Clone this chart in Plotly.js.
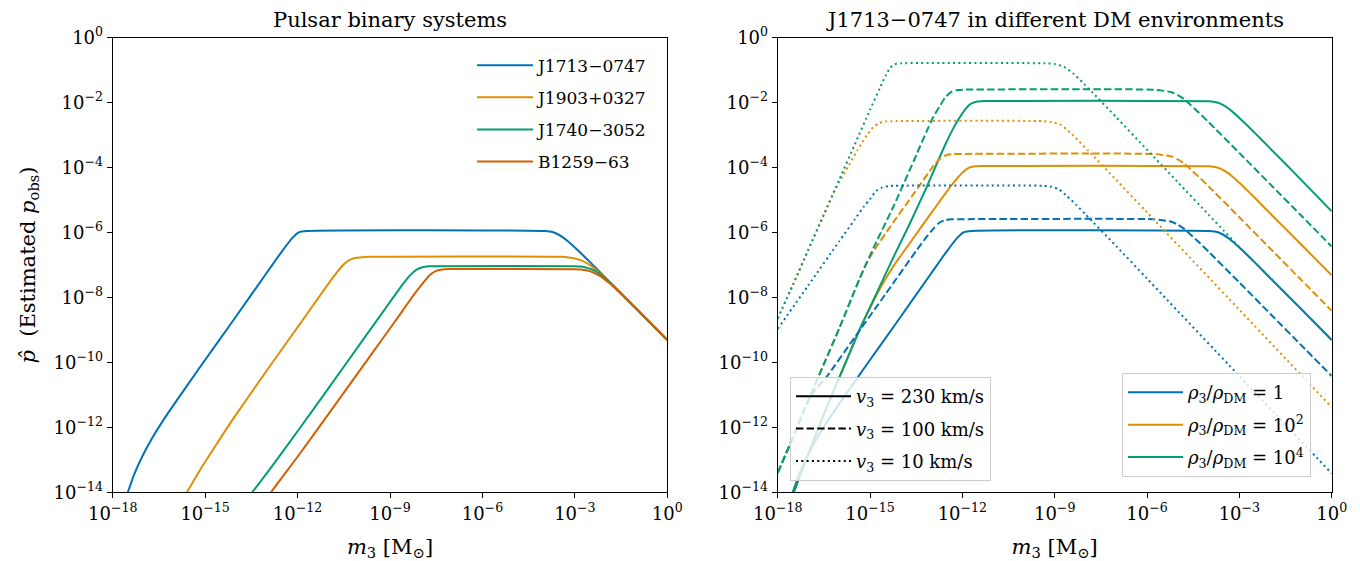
<!DOCTYPE html>
<html><head><meta charset="utf-8">
<script src="https://cdn.plot.ly/plotly-3.0.1.min.js"></script>
<style>html,body{margin:0;padding:0;background:#fff;} #chart{width:1360px;height:561px;}</style>
</head><body><div id="chart"></div>
<script>
// ---- data: log10(m3 / Msun) and log10(p_hat) ----
// Left panel: pulsar binary systems
const J1713_logm = [-17.6,-17.51,-17.3,-17.02,-16.7,-16.26,-15.7,-15.17,-14.09,-13.0,-12.5,-12.15,-11.95,-11.7,-4.0,-3.8,-3.6,-3.4,-3.2,-3.0,-2.8,-2.5,-2.0,-1.0,0];
const J1713_logp = [-14.22,-14.0,-13.44,-12.86,-12.3,-11.64,-10.87,-10.15,-8.71,-7.24,-6.57,-6.15,-5.99,-5.95,-5.95,-5.97,-6.03,-6.14,-6.29,-6.46,-6.64,-6.92,-7.40,-8.35,-9.31];
const J1903_logm = [-15.65,-15.59,-15.17,-14.7,-14.09,-13.0,-11.91,-10.83,-10.5,-10.3,-10.1,-9.9,-9.7,-3.4,-3.2,-3.0,-2.8,-2.6,-2.4,-2.2,-2.0,-1.8,-1.0,0];
const J1903_logp = [-14.1,-14.0,-13.32,-12.62,-11.74,-10.25,-8.8,-7.36,-6.98,-6.84,-6.78,-6.76,-6.75,-6.75,-6.77,-6.8,-6.86,-6.95,-7.08,-7.24,-7.41,-7.59,-8.35,-9.31];
const J1740_logm = [-13.55,-13.47,-13.0,-12.0,-11.0,-10.0,-9.0,-8.6,-8.35,-8.15,-7.95,-7.75,-7.55,-3.0,-2.8,-2.6,-2.4,-2.2,-2.0,-1.8,-1.5,-1.0,0];
const J1740_logp = [-14.12,-14.0,-13.42,-12.12,-10.8,-9.47,-8.14,-7.61,-7.32,-7.15,-7.07,-7.04,-7.035,-7.04,-7.05,-7.09,-7.16,-7.27,-7.43,-7.6,-7.88,-8.36,-9.31];
const B1259_logm = [-12.95,-12.86,-11.91,-10.83,-9.74,-9.3,-8.6,-8.2,-7.95,-7.7,-7.5,-7.3,-7.1,-6.9,-3.0,-2.8,-2.6,-2.4,-2.2,-2.0,-1.8,-1.5,-1.0,0];
const B1259_logp = [-14.13,-14.0,-12.79,-11.37,-9.93,-9.35,-8.42,-7.88,-7.58,-7.3,-7.18,-7.14,-7.125,-7.12,-7.13,-7.14,-7.17,-7.23,-7.33,-7.47,-7.62,-7.89,-8.36,-9.31];

// Right panel: J1713-0747 in DM environments (rho3/rhoDM, v3)
const rho100_v230_logm = [-17.6,-17.48,-17.0,-16.5,-15.97,-15.32,-14.94,-14.57,-14.2,-13.71,-12.95,-12.3,-12.0,-11.8,-11.6,-11.4,-4.0,-3.8,-3.6,-3.4,-3.2,-3.0,-2.8,-2.5,-2.0,-1.0,0];
const rho100_v230_logp = [-14.25,-14.0,-12.8,-11.6,-10.4,-8.95,-8.21,-7.55,-6.98,-6.33,-5.32,-4.48,-4.16,-4.01,-3.96,-3.95,-3.96,-3.98,-4.04,-4.15,-4.30,-4.47,-4.65,-4.93,-5.41,-6.36,-7.32];
const rho1e4_v230_logm = [-17.6,-17.48,-17.0,-16.5,-15.97,-15.32,-14.95,-14.57,-14.2,-13.71,-13.17,-12.85,-12.52,-12.3,-12.09,-11.9,-11.75,-11.55,-11.3,-4.0,-3.8,-3.6,-3.4,-3.2,-3.0,-2.8,-2.5,-2.0,-1.0,0];
const rho1e4_v230_logp = [-14.25,-14.0,-12.8,-11.6,-10.4,-8.95,-8.2,-7.43,-6.68,-5.73,-4.62,-3.92,-3.22,-2.8,-2.46,-2.2,-2.05,-1.97,-1.95,-1.96,-1.98,-2.04,-2.15,-2.30,-2.47,-2.65,-2.93,-3.41,-4.37,-5.35];
const rho1_v100_logm = [-18,-17.5,-17.1,-16.9,-16.7,-16.4,-15.5,-14.5,-13.48,-13.2,-12.94,-12.75,-12.56,-12.36,-12.1,-5.8,-5.5,-5.2,-5.0,-4.8,-4.6,-4.3,-4.0,-3.0,-2.0,-1.0,0];
const rho1_v100_logp = [-13.4,-12.3,-11.38,-11.0,-10.75,-10.43,-9.23,-7.9,-6.54,-6.18,-5.88,-5.70,-5.62,-5.595,-5.59,-5.59,-5.62,-5.67,-5.76,-5.88,-6.05,-6.31,-6.59,-7.54,-8.50,-9.46,-10.42];
const rho100_v100_logm = [-18,-17.5,-17.0,-16.5,-16.0,-15.33,-15.1,-14.8,-14.24,-13.59,-12.94,-12.7,-12.5,-12.3,-12.1,-5.8,-5.5,-5.2,-5.0,-4.8,-4.6,-4.3,-4.0,-3.0,-2.0,-1.0,0];
const rho100_v100_logp = [-13.4,-12.3,-11.15,-10.05,-8.95,-7.4,-6.92,-6.45,-5.68,-4.82,-3.95,-3.7,-3.61,-3.585,-3.58,-3.58,-3.61,-3.66,-3.75,-3.87,-4.04,-4.30,-4.58,-5.53,-6.49,-7.45,-8.41];
const rho1e4_v100_logm = [-18,-17.5,-17.0,-16.5,-16.0,-15.33,-14.8,-14.24,-13.49,-13.17,-12.95,-12.74,-12.55,-12.36,-12.15,-11.95,-5.8,-5.5,-5.2,-5.0,-4.8,-4.6,-4.3,-4.0,-3.0,-2.0,-1.0,0];
const rho1e4_v100_logp = [-13.4,-12.3,-11.15,-10.05,-8.95,-7.4,-6.3,-5.2,-3.6,-2.9,-2.45,-2.12,-1.83,-1.67,-1.61,-1.6,-1.6,-1.63,-1.68,-1.77,-1.89,-2.06,-2.32,-2.6,-3.55,-4.51,-5.47,-6.43];
const rho1_v10_logm = [-18,-17.0,-16.0,-15.5,-15.2,-15.0,-14.8,-14.6,-14.4,-14.2,-9.4,-9.1,-8.86,-8.6,-8.3,-8.0,-7.0,-6.0,-3.0,0];
const rho1_v10_logp = [-8.97,-7.62,-6.27,-5.6,-5.2,-4.97,-4.72,-4.61,-4.57,-4.56,-4.56,-4.59,-4.67,-4.88,-5.15,-5.44,-6.42,-7.42,-10.42,-13.42];
const rho100_v10_logm = [-18,-17.5,-17.0,-16.5,-16.2,-16.0,-15.7,-15.4,-15.1,-14.9,-14.7,-14.5,-14.3,-9.4,-9.1,-8.81,-8.5,-8.2,-7.9,-7.0,-6.0,-3.0,0];
const rho100_v10_logp = [-8.65,-7.6,-6.52,-5.45,-4.82,-4.45,-3.95,-3.45,-3.0,-2.76,-2.63,-2.58,-2.57,-2.57,-2.6,-2.68,-2.92,-3.2,-3.49,-4.38,-5.38,-8.38,-11.38];
const rho1e4_v10_logm = [-18,-17.5,-17.0,-16.5,-16.0,-15.5,-15.0,-14.68,-14.5,-14.35,-14.2,-14.0,-9.3,-9.0,-8.7,-8.4,-8.1,-7.8,-7.0,-6.0,-5.0,-4.0,-3.5,-3.0,-2.0,-1.0,0];
const rho1e4_v10_logp = [-8.65,-7.6,-6.52,-5.45,-4.37,-3.3,-2.22,-1.55,-1.18,-0.93,-0.82,-0.79,-0.79,-0.81,-0.9,-1.1,-1.37,-1.66,-2.45,-3.45,-4.45,-5.45,-5.95,-6.45,-7.39,-8.35,-9.31];

const pulsarNames = ['J1713\u22120747','J1903+0327','J1740\u22123052','B1259\u221263'];
const speedLabels = ['230','100','10'];
const rhoLabels = ['1','10<sup>2</sup>','10<sup>4</sup>'];
const xTickExp = [-18,-15,-12,-9,-6,-3,0];
const yTickExp = [0,-2,-4,-6,-8,-10,-12,-14];

// ---- styling ----
const C = {blue:'#0173b2', orange:'#de8f05', green:'#029e73', red:'#d55e00'};
const DASH = {solid:'solid', dashed:'7.4px,3.2px', dotted:'2px,3.3px'};
const FONT = 'DejaVu Serif, serif';
const pw = a => a.map(e => Math.pow(10, e));
const tickText = e => '10<sup>' + (e < 0 ? '\u2212' + (-e) : e) + '</sup>';

const traces = [];
const left = [[J1713_logm,J1713_logp,C.blue],[J1903_logm,J1903_logp,C.orange],[J1740_logm,J1740_logp,C.green],[B1259_logm,B1259_logp,C.red]];
left.forEach((d,i) => traces.push({x:pw(d[0]), y:pw(d[1]), xaxis:'x', yaxis:'y', mode:'lines', name:pulsarNames[i],
  line:{color:d[2], width:2, shape:'spline', smoothing:0.6}, legend:'legend', legendgroup:'p'+i, hoverinfo:'skip'}));

const right = [
  [J1713_logm,J1713_logp,C.blue,'solid'],[rho100_v230_logm,rho100_v230_logp,C.orange,'solid'],[rho1e4_v230_logm,rho1e4_v230_logp,C.green,'solid'],
  [rho1_v100_logm,rho1_v100_logp,C.blue,'dashed'],[rho100_v100_logm,rho100_v100_logp,C.orange,'dashed'],[rho1e4_v100_logm,rho1e4_v100_logp,C.green,'dashed'],
  [rho1_v10_logm,rho1_v10_logp,C.blue,'dotted'],[rho100_v10_logm,rho100_v10_logp,C.orange,'dotted'],[rho1e4_v10_logm,rho1e4_v10_logp,C.green,'dotted']];
right.forEach(d => traces.push({x:pw(d[0]), y:pw(d[1]), xaxis:'x2', yaxis:'y2', mode:'lines', showlegend:false,
  line:{color:d[2], width:2, dash:DASH[d[3]], shape:'spline', smoothing:0.6}, hoverinfo:'skip'}));

['solid','dashed','dotted'].forEach((s,i) => traces.push({x:[null], y:[null], xaxis:'x2', yaxis:'y2', mode:'lines',
  name:'<i>v</i><sub>3</sub> = ' + speedLabels[i] + ' km/s', line:{color:'#000', width:2, dash:DASH[s]}, legend:'legend2', legendgroup:'v'+i}));
[C.blue,C.orange,C.green].forEach((c,i) => traces.push({x:[null], y:[null], xaxis:'x2', yaxis:'y2', mode:'lines',
  name:'<i>\u03c1</i><sub>3</sub>/<i>\u03c1</i><sub>DM</sub> = ' + rhoLabels[i], line:{color:c, width:2}, legend:'legend3', legendgroup:'r'+i}));

const axisBase = {type:'log', showgrid:false, zeroline:false, showline:true, linecolor:'#000', linewidth:1, mirror:true,
  ticks:'outside', ticklen:5, tickwidth:1, tickcolor:'#000', tickfont:{family:FONT, size:18, color:'#000'}};
const xax = (dom, anchor) => Object.assign({}, axisBase, {domain:dom, anchor:anchor, range:[-18,0],
  tickvals:pw(xTickExp), ticktext:xTickExp.map(tickText),
  title:{text:'<i>m</i><sub>3</sub> [M<sub>\u2299</sub>]', font:{family:FONT, size:21, color:'#000'}, standoff:16}});
const yax = (anchor, withTitle) => Object.assign({}, axisBase, {domain:[0.1225,0.9328], anchor:anchor, range:[-14,0],
  tickvals:pw(yTickExp), ticktext:yTickExp.map(tickText),
  title: withTitle ? {text:'<i>p\u0302</i>  (Estimated <i>p</i><sub>obs</sub>)', font:{family:FONT, size:21, color:'#000'}, standoff:12} : {text:''}});

const legendBox = {bgcolor:'rgba(255,255,255,0.8)', bordercolor:'#cccccc', borderwidth:1,
  font:{family:FONT, size:18, color:'#000'}, xanchor:'left', yanchor:'top', tracegroupgap:6, itemwidth:55};

const layout = {
  width:1360, height:561, margin:{l:0,r:0,t:0,b:0}, paper_bgcolor:'#fff', plot_bgcolor:'#fff',
  font:{family:FONT, color:'#000'},
  xaxis: xax([0.08287,0.49066],'y'),
  yaxis: yax('x', true),
  xaxis2: xax([0.57184,0.97919],'y2'),
  yaxis2: yax('x2', false),
  legend: Object.assign({}, legendBox, {x:0.3471, y:0.915, bgcolor:'rgba(0,0,0,0)', borderwidth:0, tracegroupgap:7, itemwidth:56, font:{family:FONT, size:17, color:'#000'}}),
  legend2: Object.assign({}, legendBox, {x:0.5809, y:0.328}),
  legend3: Object.assign({}, legendBox, {x:0.825, y:0.335}),
  annotations:[
    {text:'Pulsar binary systems', x:0.2868, y:1-20/561, xref:'paper', yref:'paper', xanchor:'center', yanchor:'middle', showarrow:false, font:{family:FONT, size:21, color:'#000'}},
    {text:'J1713\u22120747 in different DM environments', x:0.7755, y:1-20/561, xref:'paper', yref:'paper', xanchor:'center', yanchor:'middle', showarrow:false, font:{family:FONT, size:21, color:'#000'}}
  ]
};
Plotly.newPlot('chart', traces, layout, {staticPlot:true, displayModeBar:false});
</script></body></html>
